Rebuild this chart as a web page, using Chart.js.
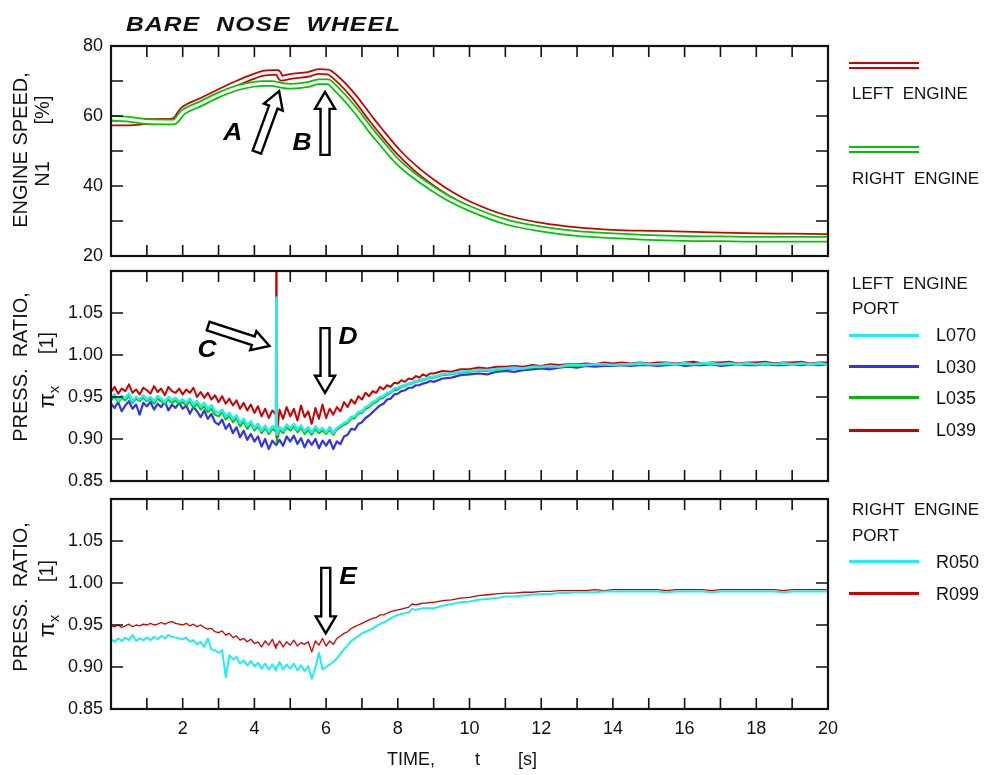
<!DOCTYPE html>
<html>
<head>
<meta charset="utf-8">
<script src="https://cdn.jsdelivr.net/npm/chart.js@4"></script>
<style>
  body { margin: 0; background: #fff; }
  #page { position: relative; width: 987px; height: 775px; font-family: "Liberation Sans", Arial, sans-serif; color: #111; overflow: hidden; }
  #page canvas { position: absolute; left: 0; top: 0; }
  .txt { position: absolute; white-space: pre; line-height: 1; }
  .rot { position: absolute; white-space: pre; line-height: 1; transform: translate(-50%, -50%) rotate(-90deg); }
  .sw { position: absolute; left: 849px; width: 70px; }
  .thin { height: 2px; }
  .one { height: 3px; }
  .leg { font-size: 17px; left: 852px; }
  .port { font-size: 18px; left: 936px; }
</style>
</head>
<body>
<div id="page">
  <canvas id="speedChart" width="987" height="775"></canvas>
  <canvas id="leftChart" width="987" height="775"></canvas>
  <canvas id="rightChart" width="987" height="775"></canvas>

  <div class="txt" style="left:126px;top:12px;font:italic bold 21px 'Liberation Sans',Arial;letter-spacing:1px;transform:scaleX(1.17);transform-origin:left top">BARE  NOSE  WHEEL</div>

  <div class="rot" style="left:20px;top:150px;font-size:20px">ENGINE SPEED,</div>
  <div class="rot" style="left:42px;top:174px;font-size:20px">N1</div>
  <div class="rot" style="left:42px;top:110px;font-size:20px">[%]</div>

  <div class="rot" style="left:20px;top:367px;font-size:20px">PRESS.  RATIO,</div>
  <div class="rot" style="left:46px;top:343px;font-size:20px">[1]</div>
  <div class="rot" style="left:47px;top:397px;font-size:22px">π<span style="font-size:15px;position:relative;top:5px">x</span></div>

  <div class="rot" style="left:20px;top:597px;font-size:20px">PRESS.  RATIO,</div>
  <div class="rot" style="left:46px;top:571px;font-size:20px">[1]</div>
  <div class="rot" style="left:47px;top:626px;font-size:22px">π<span style="font-size:15px;position:relative;top:5px">x</span></div>

  <div class="txt" style="left:387px;top:750px;font-size:18px">TIME,</div>
  <div class="txt" style="left:475px;top:750px;font-size:18px">t</div>
  <div class="txt" style="left:518px;top:750px;font-size:18px">[s]</div>

  <div class="sw thin" style="top:62px;background-color:#cc0000"></div>
  <div class="sw thin" style="top:67px;background-color:#cc0000"></div>
  <div class="txt leg" style="top:84.5px">LEFT  ENGINE</div>
  <div class="sw thin" style="top:146px;background-color:#00c400"></div>
  <div class="sw thin" style="top:151px;background-color:#00c400"></div>
  <div class="txt leg" style="top:169.5px">RIGHT  ENGINE</div>

  <div class="txt leg" style="top:274.5px">LEFT  ENGINE</div>
  <div class="txt leg" style="top:300px">PORT</div>
  <div class="sw one" style="top:333.5px;background:#22eeee"></div>
  <div class="txt port" style="top:326px">L070</div>
  <div class="sw one" style="top:365px;background:#3333ee"></div>
  <div class="txt port" style="top:358px">L030</div>
  <div class="sw one" style="top:396px;background:#00bb00"></div>
  <div class="txt port" style="top:389px">L035</div>
  <div class="sw one" style="top:428.5px;background:#cc0000"></div>
  <div class="txt port" style="top:421px">L039</div>

  <div class="txt leg" style="top:501px">RIGHT  ENGINE</div>
  <div class="txt leg" style="top:527px">PORT</div>
  <div class="sw one" style="top:560px;background:#22eeee"></div>
  <div class="txt port" style="top:553px">R050</div>
  <div class="sw one" style="top:592px;background:#cc0000"></div>
  <div class="txt port" style="top:584.5px">R099</div>
</div>

<script>
// engine speed N1 [%], sampled along speedTime [s]
const speedTime = [0, 0.5, 1, 1.5, 1.75, 2, 2.5, 3, 3.5, 4, 4.25, 4.5, 4.65, 4.75, 5, 5.5, 5.8, 6.05, 6.25, 6.75,
  7.25, 7.5, 8, 8.5, 9, 9.5, 10, 11, 12, 13, 14, 15, 16, 17, 18, 19, 20];
const leftN1 = [58.0, 58.0, 58.4, 58.5, 58.7, 61.8, 64.4, 66.9, 69.3, 71.4, 72.2, 72.4, 72.4, 70.8, 71.3, 71.9, 72.7, 72.6, 71.2, 65.9,
  59.2, 56.0, 49.9, 45.0, 41.0, 37.6, 34.9, 31.0, 28.8, 27.5, 26.8, 26.5, 26.3, 26.0, 25.8, 25.7, 25.6];
const rightN1 = [59.4, 59.1, 58.4, 58.3, 58.3, 61.0, 63.5, 66.0, 68.0, 69.1, 69.3, 69.3, 69.0, 68.8, 68.5, 69.0, 69.8, 69.8, 68.1, 62.5,
  55.9, 52.8, 46.9, 42.6, 39.1, 36.0, 33.6, 29.8, 27.7, 26.4, 25.8, 25.3, 25.0, 24.9, 24.8, 24.8, 24.8];

// pressure ratio at the intake ports, sampled along ratioTime [s]
const ratioTime = [
  0, 0.1, 0.2, 0.3, 0.4, 0.5, 0.6, 0.7, 0.8, 0.9,
  1, 1.1, 1.2, 1.3, 1.4, 1.5, 1.6, 1.7, 1.8, 1.9,
  2, 2.1, 2.2, 2.3, 2.4, 2.5, 2.6, 2.7, 2.8, 2.9,
  3, 3.1, 3.2, 3.3, 3.4, 3.5, 3.6, 3.7, 3.8, 3.9,
  4, 4.1, 4.2, 4.3, 4.4, 4.5, 4.6, 4.61, 4.62, 4.7, 4.8, 4.9,
  5, 5.1, 5.2, 5.3, 5.4, 5.5, 5.6, 5.7, 5.8, 5.9,
  6, 6.1, 6.2, 6.3, 6.4, 6.5, 6.6, 6.7, 6.8, 6.9,
  7, 7.1, 7.2, 7.3, 7.4, 7.5, 7.6, 7.7, 7.8, 7.9,
  8, 8.1, 8.2, 8.3, 8.4, 8.5, 8.6, 8.7, 8.8, 8.9,
  9, 9.25, 9.5, 9.75, 10, 10.25, 10.5, 10.75, 11, 11.25, 11.5, 11.75,
  12, 12.25, 12.5, 12.75, 13, 13.25, 13.5, 13.75, 14, 14.25, 14.5, 14.75,
  15, 15.25, 15.5, 15.75, 16, 16.25, 16.5, 16.75, 17, 17.25, 17.5, 17.75,
  18, 18.25, 18.5, 18.75, 19, 19.25, 19.5, 19.75, 20
];
const portL070 = [
  0.948, 0.953, 0.946, 0.951, 0.949, 0.954, 0.945, 0.950, 0.947, 0.952,
  0.947, 0.950, 0.945, 0.951, 0.948, 0.944, 0.950, 0.946, 0.949, 0.945,
  0.947, 0.943, 0.948, 0.941, 0.945, 0.939, 0.943, 0.936, 0.940, 0.933,
  0.931, 0.935, 0.927, 0.931, 0.924, 0.928, 0.919, 0.924, 0.916, 0.921,
  0.913, 0.918, 0.910, 0.916, 0.909, 0.915, 0.912, 1.068, 0.905, 0.914, 0.910, 0.917,
  0.913, 0.918, 0.911, 0.916, 0.909, 0.914, 0.908, 0.915, 0.910, 0.913,
  0.908, 0.914, 0.907, 0.913, 0.916, 0.919, 0.921, 0.926, 0.927, 0.932,
  0.933, 0.938, 0.940, 0.944, 0.946, 0.950, 0.951, 0.955, 0.956, 0.960,
  0.961, 0.963, 0.964, 0.966, 0.967, 0.969, 0.970, 0.971, 0.972, 0.974,
  0.974, 0.977, 0.978, 0.980, 0.981, 0.982, 0.982, 0.983, 0.984, 0.985, 0.984, 0.986,
  0.986, 0.987, 0.986, 0.988, 0.988, 0.988, 0.989, 0.989, 0.988, 0.989, 0.989, 0.990,
  0.989, 0.989, 0.990, 0.989, 0.990, 0.989, 0.990, 0.990, 0.989, 0.990, 0.989, 0.990,
  0.989, 0.990, 0.989, 0.990, 0.989, 0.990, 0.989, 0.990, 0.989
];
const portL030 = [
  0.942, 0.937, 0.944, 0.933, 0.940, 0.945, 0.936, 0.941, 0.929, 0.943,
  0.939, 0.944, 0.935, 0.942, 0.938, 0.945, 0.934, 0.941, 0.937, 0.943,
  0.936, 0.940, 0.930, 0.938, 0.933, 0.926, 0.934, 0.924, 0.930, 0.920,
  0.917, 0.923, 0.912, 0.918, 0.907, 0.914, 0.902, 0.910, 0.899, 0.906,
  0.897, 0.903, 0.891, 0.900, 0.888, 0.898, 0.893, 0.893, 0.893, 0.899, 0.892, 0.903,
  0.897, 0.904, 0.894, 0.901, 0.890, 0.899, 0.893, 0.900, 0.889, 0.898,
  0.892, 0.899, 0.888, 0.897, 0.894, 0.903, 0.905, 0.912, 0.911, 0.918,
  0.920, 0.925, 0.928, 0.932, 0.936, 0.940, 0.942, 0.947, 0.948, 0.953,
  0.954, 0.957, 0.958, 0.961, 0.961, 0.964, 0.964, 0.966, 0.967, 0.969,
  0.968, 0.972, 0.973, 0.976, 0.977, 0.978, 0.977, 0.980, 0.981, 0.980, 0.982, 0.983,
  0.984, 0.983, 0.985, 0.986, 0.985, 0.987, 0.986, 0.987, 0.987, 0.988, 0.987, 0.988,
  0.988, 0.987, 0.988, 0.989, 0.987, 0.988, 0.988, 0.989, 0.987, 0.988, 0.989, 0.988,
  0.988, 0.989, 0.988, 0.988, 0.989, 0.988, 0.989, 0.988, 0.989
];
const portL035 = [
  0.946, 0.950, 0.944, 0.949, 0.946, 0.951, 0.943, 0.948, 0.945, 0.949,
  0.945, 0.948, 0.942, 0.948, 0.945, 0.942, 0.947, 0.943, 0.946, 0.942,
  0.944, 0.940, 0.945, 0.937, 0.942, 0.935, 0.939, 0.932, 0.936, 0.929,
  0.927, 0.932, 0.923, 0.928, 0.920, 0.925, 0.915, 0.921, 0.912, 0.918,
  0.910, 0.915, 0.907, 0.913, 0.906, 0.912, 0.909, 1.065, 0.896, 0.911, 0.907, 0.914,
  0.910, 0.915, 0.908, 0.913, 0.906, 0.911, 0.905, 0.912, 0.907, 0.910,
  0.906, 0.911, 0.905, 0.911, 0.914, 0.917, 0.919, 0.924, 0.925, 0.930,
  0.931, 0.936, 0.938, 0.942, 0.944, 0.948, 0.949, 0.953, 0.955, 0.958,
  0.959, 0.962, 0.963, 0.965, 0.966, 0.968, 0.969, 0.970, 0.971, 0.973,
  0.973, 0.976, 0.977, 0.979, 0.980, 0.981, 0.981, 0.982, 0.983, 0.984, 0.984, 0.985,
  0.985, 0.986, 0.986, 0.987, 0.987, 0.988, 0.988, 0.988, 0.988, 0.989, 0.988, 0.989,
  0.989, 0.989, 0.989, 0.989, 0.989, 0.989, 0.990, 0.989, 0.989, 0.990, 0.989, 0.989,
  0.989, 0.989, 0.990, 0.989, 0.989, 0.990, 0.989, 0.989, 0.990
];
const portL039 = [
  0.956, 0.962, 0.954, 0.960, 0.957, 0.965, 0.955, 0.959, 0.953, 0.961,
  0.958, 0.954, 0.963, 0.956, 0.960, 0.952, 0.962, 0.957, 0.955, 0.960,
  0.953, 0.959, 0.955, 0.961, 0.950, 0.956, 0.949, 0.955, 0.947, 0.952,
  0.944, 0.951, 0.942, 0.948, 0.940, 0.946, 0.936, 0.943, 0.934, 0.941,
  0.931, 0.939, 0.927, 0.936, 0.925, 0.934, 0.929, 1.120, 0.903, 0.935, 0.924, 0.938,
  0.927, 0.936, 0.922, 0.940, 0.926, 0.933, 0.918, 0.937, 0.924, 0.941,
  0.925, 0.936, 0.929, 0.938, 0.933, 0.944, 0.938, 0.947, 0.942, 0.951,
  0.947, 0.955, 0.951, 0.957, 0.955, 0.962, 0.959, 0.964, 0.962, 0.967,
  0.966, 0.970, 0.968, 0.972, 0.971, 0.975, 0.973, 0.977, 0.975, 0.978,
  0.978, 0.981, 0.980, 0.983, 0.983, 0.985, 0.984, 0.986, 0.986, 0.987, 0.986, 0.988,
  0.987, 0.989, 0.988, 0.989, 0.989, 0.990, 0.989, 0.991, 0.990, 0.991, 0.990, 0.991,
  0.990, 0.991, 0.991, 0.990, 0.991, 0.992, 0.990, 0.991, 0.991, 0.992, 0.990, 0.991,
  0.991, 0.992, 0.990, 0.991, 0.991, 0.992, 0.990, 0.991, 0.991
];
const portR050 = [
  0.933, 0.930, 0.934, 0.931, 0.935, 0.932, 0.938, 0.931, 0.934, 0.932,
  0.935, 0.932, 0.936, 0.933, 0.937, 0.934, 0.938, 0.936, 0.935, 0.934,
  0.933, 0.935, 0.930, 0.932, 0.927, 0.930, 0.924, 0.934, 0.921, 0.920,
  0.917, 0.920, 0.888, 0.914, 0.909, 0.912, 0.904, 0.908, 0.902, 0.907,
  0.901, 0.905, 0.898, 0.904, 0.897, 0.903, 0.896, 0.900, 0.899, 0.906, 0.897, 0.903,
  0.898, 0.904, 0.896, 0.902, 0.895, 0.901, 0.886, 0.899, 0.917, 0.897,
  0.900, 0.903, 0.906, 0.910, 0.916, 0.921, 0.926, 0.931, 0.934, 0.937,
  0.940, 0.942, 0.944, 0.946, 0.949, 0.951, 0.953, 0.955, 0.958, 0.960,
  0.962, 0.963, 0.964, 0.965, 0.969, 0.968, 0.969, 0.970, 0.970, 0.970,
  0.970, 0.973, 0.975, 0.977, 0.978, 0.980, 0.981, 0.982, 0.984, 0.984, 0.985, 0.986,
  0.987, 0.987, 0.988, 0.988, 0.989, 0.989, 0.989, 0.990, 0.990, 0.990, 0.990, 0.990,
  0.990, 0.990, 0.989, 0.990, 0.990, 0.990, 0.990, 0.989, 0.990, 0.990, 0.990, 0.990,
  0.990, 0.990, 0.990, 0.989, 0.990, 0.990, 0.990, 0.990, 0.990
];
const portR099 = [
  0.949, 0.948, 0.950, 0.947, 0.949, 0.951, 0.948, 0.950, 0.949, 0.951,
  0.950, 0.952, 0.950, 0.951, 0.953, 0.951, 0.953, 0.954, 0.952, 0.951,
  0.950, 0.952, 0.949, 0.951, 0.948, 0.950, 0.947, 0.945, 0.946, 0.942,
  0.941, 0.943, 0.938, 0.940, 0.935, 0.937, 0.932, 0.934, 0.930, 0.933,
  0.928, 0.930, 0.924, 0.931, 0.926, 0.933, 0.922, 0.927, 0.925, 0.931, 0.924, 0.930,
  0.926, 0.932, 0.925, 0.929, 0.927, 0.930, 0.918, 0.931, 0.926, 0.934,
  0.925, 0.931, 0.927, 0.934, 0.937, 0.940, 0.942, 0.946, 0.948, 0.950,
  0.952, 0.954, 0.956, 0.958, 0.959, 0.962, 0.962, 0.964, 0.966, 0.967,
  0.968, 0.969, 0.970, 0.971, 0.975, 0.974, 0.975, 0.976, 0.976, 0.977,
  0.977, 0.979, 0.980, 0.982, 0.983, 0.985, 0.986, 0.987, 0.988, 0.988, 0.989, 0.989,
  0.990, 0.990, 0.991, 0.991, 0.991, 0.991, 0.992, 0.991, 0.992, 0.992, 0.992, 0.992,
  0.992, 0.992, 0.991, 0.992, 0.992, 0.992, 0.992, 0.991, 0.992, 0.992, 0.992, 0.992,
  0.992, 0.992, 0.992, 0.991, 0.992, 0.992, 0.992, 0.992, 0.992
];

// axis ticks
const timeLabels = [2, 4, 6, 8, 10, 12, 14, 16, 18, 20];
const timeMarks = [1, 2, 3, 4, 5, 6, 7, 8, 9, 10, 11, 12, 13, 14, 15, 16, 17, 18, 19];
const speedLabels = [20, 40, 60, 80];
const speedMarks = [30, 40, 50, 60, 70];
const ratioLabels = [0.85, 0.90, 0.95, 1.00, 1.05];
const ratioMarks = [0.90, 0.95, 1.00, 1.05];

// event arrows, in data units: tail, tip, letter position
const speedNotes = [
  { text: 'A', from: [4.07, 49.7], to: [4.69, 67.1], at: [3.40, 55.1] },
  { text: 'B', from: [5.97, 48.9], to: [5.97, 66.9], at: [5.33, 52.3] }
];
const leftNotes = [
  { text: 'C', from: [2.71, 1.0345], to: [4.42, 1.0107], at: [2.68, 1.006] },
  { text: 'D', from: [5.97, 1.032], to: [5.97, 0.955], at: [6.61, 1.021] }
];
const rightNotes = [
  { text: 'E', from: [5.99, 1.018], to: [5.99, 0.940], at: [6.61, 1.007] }
];

const RED = '#cc0000', GREEN = '#00c400', CYAN = '#22eeee', BLUE = '#3333ee';

Chart.defaults.font.family = '"Liberation Sans", Arial, sans-serif';
Chart.defaults.font.size = 18;
Chart.defaults.color = '#111';

function pts(times, vals) {
  return times.map((t, i) => ({ x: t, y: vals[i] }));
}

function hollowArrow(ctx, x0, y0, x1, y1) {
  const len = Math.hypot(x1 - x0, y1 - y0);
  const ux = (x1 - x0) / len, uy = (y1 - y0) / len;
  const nx = -uy, ny = ux;
  const w = 4.5, hw = 10, hl = 17;
  const shape = [[0, w], [len - hl, w], [len - hl, hw], [len, 0], [len - hl, -hw], [len - hl, -w], [0, -w]];
  ctx.beginPath();
  shape.forEach(([a, b], i) => {
    const px = x0 + ux * a + nx * b, py = y0 + uy * a + ny * b;
    if (i === 0) ctx.moveTo(px, py); else ctx.lineTo(px, py);
  });
  ctx.closePath();
  ctx.fillStyle = '#fff';
  ctx.fill();
  ctx.lineWidth = 2.4;
  ctx.strokeStyle = '#000';
  ctx.lineJoin = 'miter';
  ctx.stroke();
}

// frame, inward tick marks and the labelled arrows
function framePlugin(yMarks, notes) {
  return {
    id: 'frame',
    afterDatasetsDraw(chart) {
      const { ctx, chartArea: a, scales: { x, y } } = chart;
      ctx.save();
      ctx.strokeStyle = '#111';
      ctx.lineWidth = 1.6;
      ctx.beginPath();
      timeMarks.forEach(v => {
        const px = x.getPixelForValue(v);
        ctx.moveTo(px, a.top); ctx.lineTo(px, a.top + 11);
        ctx.moveTo(px, a.bottom); ctx.lineTo(px, a.bottom - 11);
      });
      yMarks.forEach(v => {
        const py = y.getPixelForValue(v);
        ctx.moveTo(a.left, py); ctx.lineTo(a.left + 12, py);
        ctx.moveTo(a.right, py); ctx.lineTo(a.right - 12, py);
      });
      ctx.stroke();
      ctx.lineWidth = 2.2;
      ctx.strokeRect(a.left, a.top, a.right - a.left, a.bottom - a.top);

      notes.forEach(n => {
        hollowArrow(ctx,
          x.getPixelForValue(n.from[0]), y.getPixelForValue(n.from[1]),
          x.getPixelForValue(n.to[0]), y.getPixelForValue(n.to[1]));
        ctx.save();
        ctx.translate(x.getPixelForValue(n.at[0]), y.getPixelForValue(n.at[1]));
        ctx.scale(1.1, 1);
        ctx.font = 'italic bold 24px "Liberation Sans", Arial, sans-serif';
        ctx.fillStyle = '#000';
        ctx.textAlign = 'center';
        ctx.textBaseline = 'middle';
        ctx.fillText(n.text, 0, 0);
        ctx.restore();
      });
      ctx.restore();
    }
  };
}

function makePanel(id, o) {
  return new Chart(document.getElementById(id), {
    type: 'line',
    data: { datasets: o.datasets },
    options: {
      responsive: false,
      animation: false,
      events: [],
      layout: { padding: { top: o.top, bottom: o.bottom, left: 0, right: 159 } },
      plugins: { legend: { display: false }, tooltip: { enabled: false } },
      elements: { point: { radius: 0 }, line: { borderJoinStyle: 'round', borderCapStyle: 'round' } },
      scales: {
        x: {
          type: 'linear', min: 0, max: 20, display: o.showTime,
          afterBuildTicks: s => { s.ticks = timeLabels.map(v => ({ value: v })); },
          afterFit: s => { if (o.showTime) s.height = 30; },
          grid: { display: false, drawTicks: false }, border: { display: false },
          ticks: { padding: 9, autoSkip: false, maxRotation: 0 }
        },
        y: {
          type: 'linear', min: o.yMin, max: o.yMax,
          afterBuildTicks: s => { s.ticks = o.yLabels.map(v => ({ value: v })); },
          afterFit: s => { s.width = 111; },
          grid: { display: false, drawTicks: false }, border: { display: false },
          ticks: { padding: 8, autoSkip: false, callback: o.fmt }
        }
      }
    },
    plugins: [framePlugin(o.yMarks, o.notes)]
  });
}

function doubleLine(label, color, vals, order) {
  return [
    { label: label, data: pts(speedTime, vals), borderColor: color, borderWidth: 6.5, cubicInterpolationMode: 'monotone', order: order + 1 },
    { label: label, data: pts(speedTime, vals), borderColor: '#fff', borderWidth: 3, cubicInterpolationMode: 'monotone', order: order }
  ];
}

makePanel('speedChart', {
  top: 46, bottom: 519, showTime: false,
  yMin: 20, yMax: 80, yLabels: speedLabels, yMarks: speedMarks, fmt: v => String(v),
  notes: speedNotes,
  datasets: [...doubleLine('LEFT ENGINE', RED, leftN1, 2), ...doubleLine('RIGHT ENGINE', GREEN, rightN1, 0)]
});

makePanel('leftChart', {
  top: 271, bottom: 294, showTime: false,
  yMin: 0.85, yMax: 1.10, yLabels: ratioLabels, yMarks: ratioMarks, fmt: v => v.toFixed(2),
  notes: leftNotes,
  datasets: [
    { label: 'L070', data: pts(ratioTime, portL070), borderColor: CYAN, borderWidth: 2.6, order: 0 },
    { label: 'L030', data: pts(ratioTime, portL030), borderColor: BLUE, borderWidth: 2.2, order: 3 },
    { label: 'L035', data: pts(ratioTime, portL035), borderColor: GREEN, borderWidth: 2, order: 2 },
    { label: 'L039', data: pts(ratioTime, portL039), borderColor: RED, borderWidth: 2, order: 1 }
  ]
});

makePanel('rightChart', {
  top: 499, bottom: 36, showTime: true,
  yMin: 0.85, yMax: 1.10, yLabels: ratioLabels, yMarks: ratioMarks, fmt: v => v.toFixed(2),
  notes: rightNotes,
  datasets: [
    { label: 'R050', data: pts(ratioTime, portR050), borderColor: CYAN, borderWidth: 2, order: 0 },
    { label: 'R099', data: pts(ratioTime, portR099), borderColor: RED, borderWidth: 1.3, order: 1 }
  ]
});
</script>
</body>
</html>
